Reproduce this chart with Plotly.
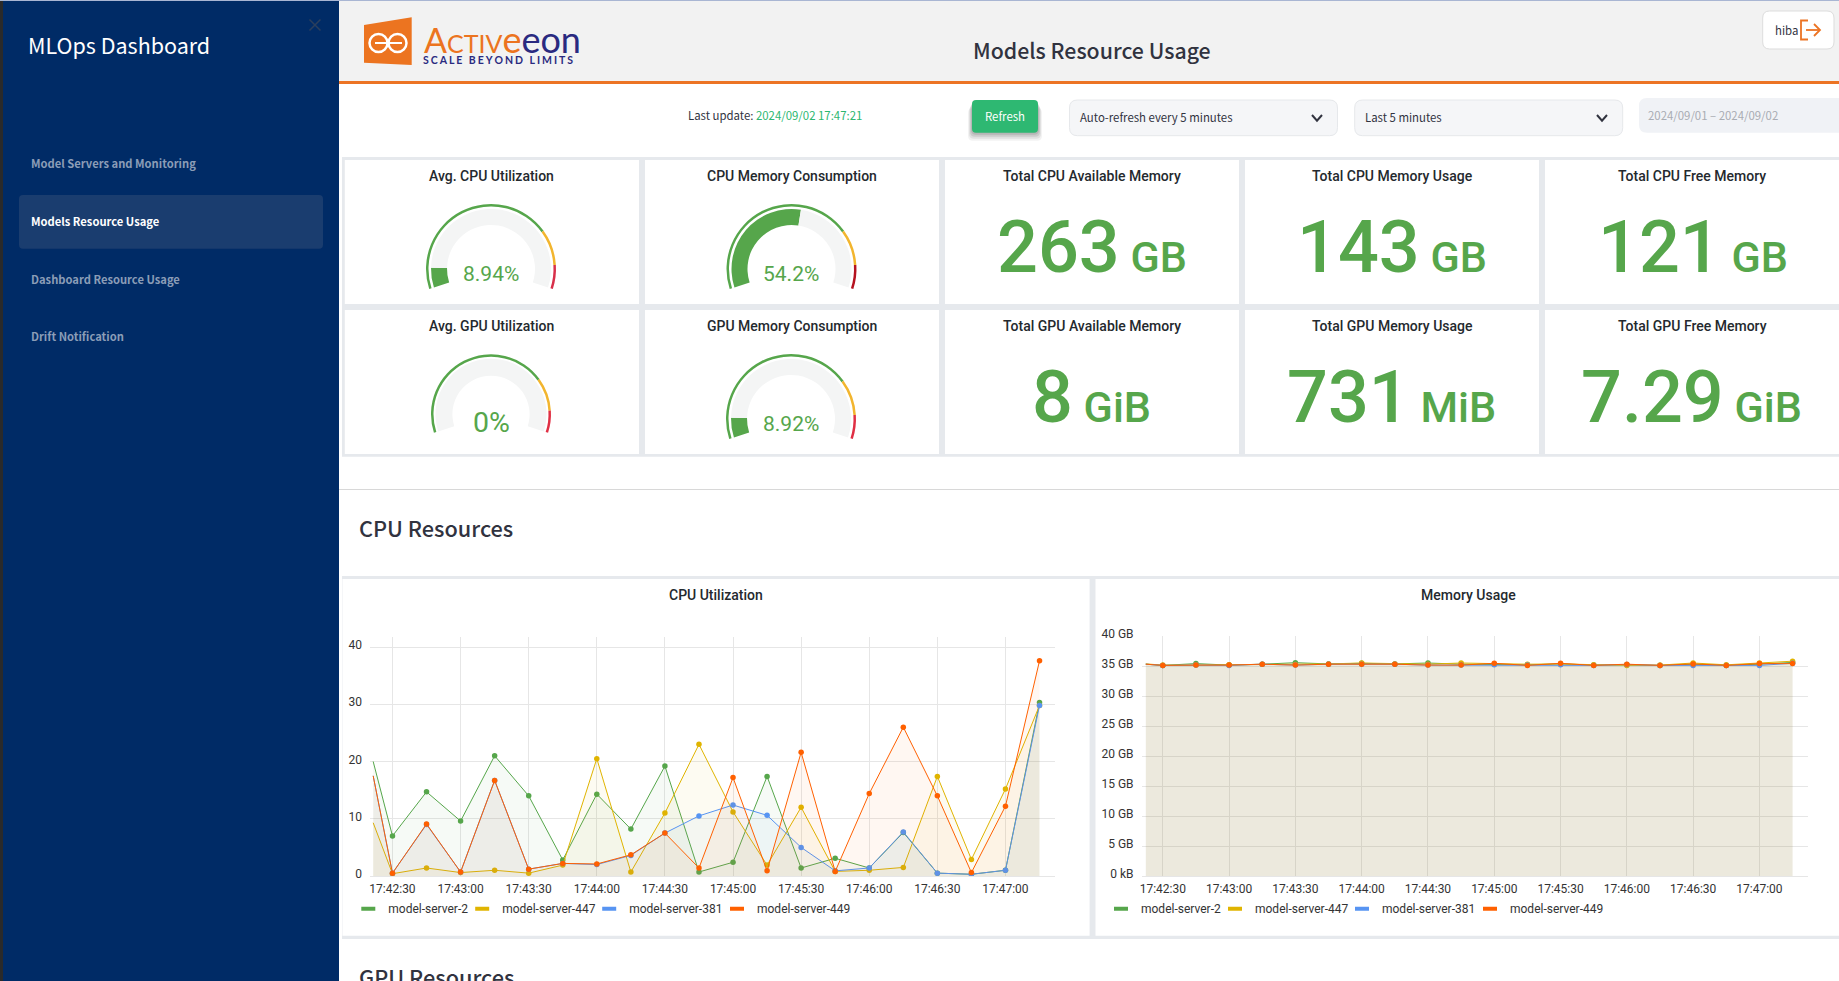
import plotly.graph_objects as go

W, H = 1839, 981

# ---------- data ----------
TIMES = ["2024-09-02 17:42:21.5", "2024-09-02 17:42:30", "2024-09-02 17:42:45", "2024-09-02 17:43:00",
         "2024-09-02 17:43:15", "2024-09-02 17:43:30", "2024-09-02 17:43:45", "2024-09-02 17:44:00",
         "2024-09-02 17:44:15", "2024-09-02 17:44:30", "2024-09-02 17:44:45", "2024-09-02 17:45:00",
         "2024-09-02 17:45:15", "2024-09-02 17:45:30", "2024-09-02 17:45:45", "2024-09-02 17:46:00",
         "2024-09-02 17:46:15", "2024-09-02 17:46:30", "2024-09-02 17:46:45", "2024-09-02 17:47:00",
         "2024-09-02 17:47:15"]
MEM_TIMES = ["2024-09-02 17:42:22.3"] + TIMES[1:]
SERIES = ["model-server-2", "model-server-447", "model-server-381", "model-server-449"]
COLORS = ["#56A64B", "#E0B400", "#5794F2", "#FF6000"]
CPU_S2 = [20, 7, 14.7, 9.6, 21, 14, 2.8, 14.3, 8.2, 19.2, 0.7, 2.4, 17.4, 1.4, 3.1, 1.4, 7.6, 0.5, 0.3, 1, 30.3]
CPU_S447 = [9.3, 0.4, 1.4, 0.6, 1.0, 0.5, 1.9, 20.5, 0.7, 11, 23, 11.2, 1.9, 12, 0.8, 1.0, 1.5, 17.4, 2.9, 15.2, 29.8]
CPU_S381 = [17.5, 0.5, 9, 0.7, 16.7, 1.2, 2.2, 2, 3.6, 7.5, 10.5, 12.4, 10.6, 5, 0.9, 1.4, 7.7, 0.5, 0.3, 1, 29.8]
CPU_S449 = [17.5, 0.5, 9.1, 0.7, 16.7, 1.2, 2.2, 2.1, 3.7, 7.5, 1.4, 17.2, 0.9, 21.6, 0.8, 14.4, 26, 14, 0.6, 12.2, 37.6]
MEM_S2 = [35.3, 35.1, 35.4, 35.15, 35.3, 35.55, 35.35, 35.45, 35.35, 35.5, 35.3, 35.3, 35.2, 35.35, 35.15, 35.2, 35.1, 35.3, 35.1, 35.3, 35.6]
MEM_S447 = [35.35, 35.15, 35.15, 35.2, 35.3, 35.25, 35.35, 35.5, 35.35, 35.3, 35.5, 35.35, 35.3, 35.35, 35.2, 35.1, 35.15, 35.5, 35.2, 35.5, 35.8]
MEM_S381 = [35.3, 35.1, 35.15, 35.1, 35.3, 35.15, 35.3, 35.3, 35.3, 35.15, 35.15, 35.2, 35.15, 35.2, 35.1, 35.25, 35.1, 35.1, 35.1, 35.1, 35.45]
MEM_S449 = [35.3, 35.1, 35.15, 35.15, 35.3, 35.15, 35.3, 35.3, 35.3, 35.15, 35.15, 35.45, 35.1, 35.45, 35.1, 35.3, 35.1, 35.35, 35.1, 35.4, 35.4]
MEM_TICKVALS = [0, 5, 10, 15, 20, 25, 30, 35, 40]
MEM_TICKTEXT = ["0 kB", "5 GB", "10 GB", "15 GB", "20 GB", "25 GB", "30 GB", "35 GB", "40 GB"]
CPU_TICKVALS = [0, 10, 20, 30, 40]

GAUGE_TITLES = ["Avg. CPU Utilization", "CPU Memory Consumption", "Avg. GPU Utilization", "GPU Memory Consumption"]
GAUGE_VALUES = [8.94, 54.2, 0, 8.92]
GAUGE_LABELS = ["8.94%", "54.2%", "0%", "8.92%"]
GAUGE_REDS = ["#D8304A", "#B5121F", "#E02F44", "#E02F44"]
BANDS = [75, 15, 10]

STAT_TITLES = ["Total CPU Available Memory", "Total CPU Memory Usage", "Total CPU Free Memory",
               "Total GPU Available Memory", "Total GPU Memory Usage", "Total GPU Free Memory"]
STAT_VALUES = ["263", "143", "121", "8", "731", "7.29"]
STAT_UNITS = ["GB", "GB", "GB", "GiB", "MiB", "GiB"]
NAV_ITEMS = ["Model Servers and Monitoring", "Models Resource Usage", "Dashboard Resource Usage", "Drift Notification"]

# ---------- helpers ----------
SANS = "Noto Sans CJK SC"
ROBOTO = "Roboto"
GREEN = "#56A64B"
GRID = "#E6E6E6"
PANEL_BG = "#E6E9ED"
px = lambda x: x / W
py = lambda y: 1 - y / H
shapes, annots = [], []


def rect(x0, y0, x1, y1, fill, line=None, lw=1):
    shapes.append(dict(type="rect", xref="paper", yref="paper", x0=px(x0), x1=px(x1), y0=py(y0), y1=py(y1),
                       fillcolor=fill, line=dict(color=line or fill, width=lw if line else 0), layer="below"))


def path(points, stroke=None, fill=None, lw=1, close=False):
    d = "M" + " L".join(f"{px(a):.6f},{py(b):.6f}" for a, b in points) + (" Z" if close else "")
    shapes.append(dict(type="path", xref="paper", yref="paper", path=d, fillcolor=fill or "rgba(0,0,0,0)",
                       line=dict(color=stroke or "rgba(0,0,0,0)", width=lw), layer="below"))


def rrect(x0, y0, x1, y1, r, fill, line=None):
    def f(a, b):
        return f"{px(a):.6f},{py(b):.6f}"
    d = (f"M{f(x0 + r, y0)} L{f(x1 - r, y0)} Q{f(x1, y0)} {f(x1, y0 + r)} L{f(x1, y1 - r)} Q{f(x1, y1)} {f(x1 - r, y1)} "
         f"L{f(x0 + r, y1)} Q{f(x0, y1)} {f(x0, y1 - r)} L{f(x0, y0 + r)} Q{f(x0, y0)} {f(x0 + r, y0)} Z")
    shapes.append(dict(type="path", xref="paper", yref="paper", path=d, fillcolor=fill,
                       line=dict(color=line or "rgba(0,0,0,0)", width=1 if line else 0), layer="below"))


def text(x, y, s, size, color, family=ROBOTO, anchor="center", weight=400):
    annots.append(dict(x=px(x), y=py(y), xref="paper", yref="paper", text=s, showarrow=False, xanchor=anchor,
                       yanchor="middle", borderpad=0, font=dict(size=size, color=color, family=family, weight=weight)))


# ---------- page furniture ----------
rect(339, 0, W, 81, "#F2F2F2")
rect(339, 81, W, 84, "#EC7424")
rect(0, 0, 339, H, "#002B66")
rect(0, 0, 3, H, "#2A2A2A")
rect(0, 0, W, 1, "#A9B6D3")
rrect(19, 195, 323, 248.7, 4, "#1A3D6F")

text(27, 44, "MLOps Dashboard", 21.5, "#FFFFFF", SANS, "left")
for (nav, y) in zip(NAV_ITEMS, [163, 221.4, 279, 335.7]):
    text(30, y, nav, 11.2, "#FFFFFF" if nav == NAV_ITEMS[1] else "#8B9DB7", SANS, "left", 700)
path([(309.5, 19.5), (320.5, 30.5)], stroke="#2B3F5C", lw=1.5)
path([(320.5, 19.5), (309.5, 30.5)], stroke="#2B3F5C", lw=1.5)

# logo
path([(364, 25), (411.7, 17.3), (411.7, 65), (364, 62.7)], fill="#EC7420", close=True)
for cx in (378.5, 397.5):
    shapes.append(dict(type="circle", xref="paper", yref="paper", x0=px(cx - 9), x1=px(cx + 9), y0=py(52), y1=py(34),
                       line=dict(color="#FFFFFF", width=2.5), fillcolor="rgba(0,0,0,0)", layer="below"))
path([(375, 43), (402, 43)], stroke="#FFFFFF", lw=2)
annots.append(dict(x=px(422), y=py(39), xref="paper", yref="paper", showarrow=False, xanchor="left", yanchor="middle",
                   text="<span style='color:#EC7420;font-size:34px'>A</span>"
                        "<span style='color:#EC7420;font-size:25px'>CTIV</span>"
                        "<span style='color:#EC7420'>e</span><span style='color:#2A2A80'>eon</span>",
                   font=dict(size=36, family="Lato", color="#EC7420", weight=400)))
text(422, 60.5, "\u2009\u200a".join("SCALE BEYOND LIMITS"), 10.5, "#2A2A80", "Lato", "left", 700)

text(1092, 50, "Models Resource Usage", 21.3, "#31333F", SANS, "center", 500)
rrect(1762.7, 11, 1834, 49, 7, "#FFFFFF", "#DDDDDD")
text(1786, 30, "hiba", 11.4, "#31333F", SANS)
path([(1808, 20.5), (1801, 20.5), (1801, 39.5), (1808, 39.5)], stroke="#EC7424", lw=1.8)
path([(1806, 30), (1820, 30)], stroke="#EC7424", lw=1.8)
path([(1814, 24), (1820, 30), (1814, 36)], stroke="#EC7424", lw=1.8)

# controls
annots.append(dict(x=px(686), y=py(115), xref="paper", yref="paper", showarrow=False, xanchor="left", yanchor="middle",
                   text="Last update: <span style='color:#2DB770'>2024/09/02 17:47:21</span>",
                   font=dict(size=11.4, family=SANS, color="#31333F")))
for off, alpha in ((8, .05), (6, .07), (4, .09), (2, .1)):
    rrect(972 - off / 2, 100 + off, 1038 + off / 2, 132.7 + off, 5, f"rgba(0,0,0,{alpha})")
rrect(972, 100, 1038, 132.7, 4, "#2EB872")
text(1005, 116, "Refresh", 11.4, "#FFFFFF", SANS)
rrect(1069.5, 100, 1337.5, 135.7, 8, "#F5F6F8", "#E6E8EB")
text(1078.7, 116.7, "Auto-refresh every 5 minutes", 11.4, "#31333F", SANS, "left")
path([(1312, 115), (1317, 120.7), (1322, 115)], stroke="#31333F", lw=2)
rrect(1354.7, 100, 1622.7, 135.7, 8, "#F5F6F8", "#E6E8EB")
text(1363.7, 116.7, "Last 5 minutes", 11.4, "#31333F", SANS, "left")
path([(1597, 115), (1602, 120.7), (1607, 115)], stroke="#31333F", lw=2)
rrect(1639, 98, 1860, 132.7, 8, "#F0F2F6")
text(1646.6, 115, "2024/09/01 – 2024/09/02", 11.4, "#A9ACB3", SANS, "left")

# card grid
rect(342, 157, W, 456.7, PANEL_BG)
COLS = [(344.8, 639), (645, 939), (945, 1239), (1245, 1539), (1545, W)]
ROWS = [(160, 304), (310, 454)]
for r in ROWS:
    for c in COLS:
        rect(c[0], r[0], c[1], r[1], "#FFFFFF")

traces = []
GAUGE_GEOM = [(491, 269, 65, 44, 60), (791.5, 269, 65, 44, 60), (491, 414.3, 60, 38.6, 55.5), (791, 419, 65, 44, 60)]
GAUGE_CARD = [(0, 0), (0, 1), (1, 0), (1, 1)]
GAUGE_TEXT = [(491, 274, 21), (791, 274, 21), (491, 422.7, 28.5), (791, 424, 21)]
HIDDEN = 66.67  # share of the pie left empty so that 100 units span 216 degrees
for i in range(4):
    cx, cy, R, inner, outer = GAUGE_GEOM[i]
    v = GAUGE_VALUES[i]

    def dom(rad):
        return dict(x=[px(cx - rad), px(cx + rad)], y=[py(cy + rad), py(cy - rad)])

    traces.append(go.Pie(values=[v, 100 - v, HIDDEN], sort=False, direction="clockwise", rotation=-108,
                         hole=inner / outer, domain=dom(outer), textinfo="none", hoverinfo="skip", showlegend=False,
                         marker=dict(colors=[GREEN, "#F4F5F5", "rgba(0,0,0,0)"], line=dict(width=0))))
    traces.append(go.Pie(values=BANDS + [HIDDEN], sort=False, direction="clockwise", rotation=-108,
                         hole=(R - 2.5) / R, domain=dom(R), textinfo="none", hoverinfo="skip", showlegend=False,
                         marker=dict(colors=[GREEN, "#F2B52E", GAUGE_REDS[i], "rgba(0,0,0,0)"], line=dict(width=0))))
    r, c = GAUGE_CARD[i]
    text((COLS[c][0] + COLS[c][1]) / 2, ROWS[r][0] + 15.7, GAUGE_TITLES[i], 14, "#24292E", ROBOTO, "center", 500)
    tx, ty, ts = GAUGE_TEXT[i]
    text(tx, ty, GAUGE_LABELS[i], ts, GREEN, ROBOTO)

STAT_CELLS = [(0, 2), (0, 3), (0, 4), (1, 2), (1, 3), (1, 4)]
STAT_CENTERS = [1091.5, 1392, 1692.5, 1091, 1391, 1691]
for i in range(6):
    r, c = STAT_CELLS[i]
    text((COLS[c][0] + COLS[c][1]) / 2 if c < 4 else 1692, ROWS[r][0] + 15.7, STAT_TITLES[i], 14, "#24292E", ROBOTO, "center", 500)
    text(STAT_CENTERS[i], ROWS[r][0] + 87,
         f"{STAT_VALUES[i]}<span style='font-size:43px'> {STAT_UNITS[i]}</span>", 72, GREEN, ROBOTO, "center", 500)

# section headers and chart panels
rect(339, 489, W, 490, "#D8D8D8")
text(358, 527, "CPU Resources", 21.7, "#31333F", SANS, "left", 500)
rect(342, 576, W, 939, PANEL_BG)
rect(342.4, 579, 1089.6, 935.7, "#FFFFFF")
rect(1095.5, 579, W, 935.7, "#FFFFFF")
text(715.7, 594.5, "CPU Utilization", 14, "#24292E", ROBOTO, "center", 500)
text(1468.4, 594.5, "Memory Usage", 14, "#24292E", ROBOTO, "center", 500)
text(358, 976, "GPU Resources", 21.7, "#31333F", SANS, "left", 500)

# ---------- charts ----------
CPU = [CPU_S2, CPU_S447, CPU_S381, CPU_S449]
MEM = [MEM_S2, MEM_S447, MEM_S381, MEM_S449]
MARKER_SIZES = [0] + [5.5] * (len(TIMES) - 1)


def rgba(h, a):
    return f"rgba({int(h[1:3], 16)},{int(h[3:5], 16)},{int(h[5:7], 16)},{a})"


for data, times, ax in ((CPU, TIMES, "x"), (MEM, MEM_TIMES, "x2")):
    yax = "y" if ax == "x" else "y2"
    for name, col, vals in zip(SERIES, COLORS, data):
        traces.append(go.Scatter(x=times, y=vals, xaxis=ax, yaxis=yax, name=name, mode="lines+markers", showlegend=False,
                                 line=dict(color=col, width=1),
                                 marker=dict(color=col, size=MARKER_SIZES, sizemode="diameter", sizeref=1, opacity=1,
                                             line=dict(width=0)),
                                 fill="tozeroy", fillcolor=rgba(col, 0.05)))

legends = {}
LEG_CENTERS = [373.3, 487.2, 614.2, 742, 1126, 1240, 1367, 1495]
for i, cx in enumerate(LEG_CENTERS):
    key = "legend" if i == 0 else f"legend{i + 1}"
    name, col = SERIES[i % 4], COLORS[i % 4]
    traces.append(go.Scatter(x=[None], y=[None], xaxis="x" if i < 4 else "x2", yaxis="y" if i < 4 else "y2", name=name,
                             mode="markers", legend=key, showlegend=True,
                             marker=dict(symbol="line-ew", size=10, color=col, line=dict(color=col, width=4))))
    legends[key] = dict(x=px(cx - 15), y=py(908.7), xanchor="left", yanchor="middle", orientation="h",
                        bgcolor="rgba(0,0,0,0)", borderwidth=0, indentation=-10,
                        font=dict(family=ROBOTO, size=12, color="#333333"))


def xaxis(x0, x1, lo, hi, anchor):
    return dict(domain=[px(x0), px(x1)], type="date", range=[lo, hi], tick0="2024-09-02 17:42:30", dtick=30000,
                tickformat="%H:%M:%S", showgrid=True, gridcolor=GRID, gridwidth=1, zeroline=False,
                showline=True, linecolor=GRID, linewidth=1, ticks="", ticklabelstandoff=2, anchor=anchor,
                tickfont=dict(family=ROBOTO, size=12, color="#333333"))


def yaxis(rng, anchor, **kw):
    return dict(domain=[py(876), py(rng[2])], range=rng[:2], showgrid=True, gridcolor=GRID, gridwidth=1, zeroline=False,
                showline=False, ticks="", ticklabelstandoff=7, ticklabelshift=-2, anchor=anchor,
                tickfont=dict(family=ROBOTO, size=12, color="#333333"), **kw)


fig = go.Figure(traces)
fig.update_layout(
    width=W, height=H, template="none", margin=dict(l=0, r=0, t=0, b=0, pad=0, autoexpand=False),
    paper_bgcolor="#FFFFFF", plot_bgcolor="rgba(0,0,0,0)", hovermode=False,
    shapes=shapes, annotations=annots,
    xaxis=xaxis(370, 1054.5, "2024-09-02 17:42:20.1", "2024-09-02 17:47:21.6", "y"),
    xaxis2=xaxis(1141.6, 1807.6, "2024-09-02 17:42:20.4", "2024-09-02 17:47:21.8", "y2"),
    yaxis=yaxis([0, 41.75, 637], "x", tickvals=CPU_TICKVALS),
    yaxis2=yaxis([0, 40, 636], "x2", tickvals=MEM_TICKVALS, ticktext=MEM_TICKTEXT),
    **legends,
)
fig.write_html("out.html", config=dict(displayModeBar=False),
               post_script="document.body.style.margin='0';document.body.style.overflow='hidden';")
